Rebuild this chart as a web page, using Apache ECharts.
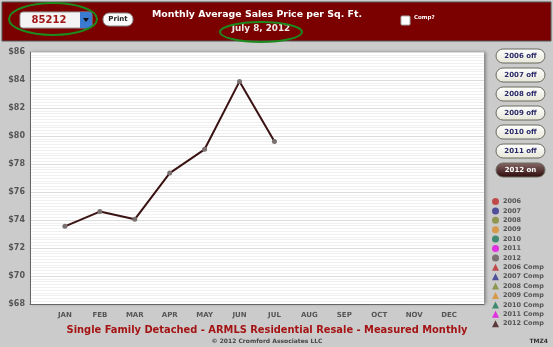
<!DOCTYPE html>
<html><head><meta charset="utf-8">
<script src="https://cdn.jsdelivr.net/npm/echarts@6/dist/echarts.min.js"></script>
<style>html,body{margin:0;padding:0;background:#cbcbcb}#c{width:553px;height:347px}</style>
</head><body><div id="c"></div>
<script>
const months = ['JAN','FEB','MAR','APR','MAY','JUN','JUL','AUG','SEP','OCT','NOV','DEC'];
const values2012 = [73.55, 74.6, 74.05, 77.35, 79.05, 83.9, 79.6];
const yTicks = [68,70,72,74,76,78,80,82,84,86];
const yearNames = ['2006','2007','2008','2009','2010','2011','2012'];
const yearColors = ['#c04a4a','#50509a','#8f9650','#d69a4a','#3f8a70','#e030e0','#5a3a3a'];
const yearButtons = ['2006 off','2007 off','2008 off','2009 off','2010 off','2011 off','2012 on'];

const cats = [''].concat(months).concat(['']);
const series = [];
yearNames.forEach((y,i)=>{
  series.push({name:y,type:'line',symbol:'circle',itemStyle:{color:yearColors[i]},
    data: y==='2012' ? ['-'].concat(values2012) : [],
    lineStyle:{color:'#3a1212',width:2}, symbolSize:5,
    z: 5});
});
yearNames.forEach((y,i)=>{
  series.push({name:y+' Comp',type:'line',symbol:'triangle',itemStyle:{color:yearColors[i]},data:[]});
});
series[6].itemStyle = {color:'#7a7070'};

const chart = echarts.init(document.getElementById('c'));
const graphics = [];
graphics.push({type:'rect',shape:{x:2,y:2,width:549,height:39},style:{fill:'#7b0000',stroke:'#555',lineWidth:1}});
graphics.push({type:'rect',shape:{x:20,y:12,width:72,height:16,r:3},style:{fill:'#f4f4f4',stroke:'#999'}});
graphics.push({type:'rect',shape:{x:80,y:12,width:12,height:16,r:[0,3,3,0]},style:{fill:'#3a7ad0'}});
graphics.push({type:'polygon',shape:{points:[[83,18],[89,18],[86,22]]},style:{fill:'#111'}});
graphics.push({type:'text',style:{x:49,y:20,text:'85212',fill:'#a01818',font:'bold 10px "DejaVu Sans"',align:'center',verticalAlign:'middle'}});
graphics.push({type:'rect',shape:{x:103,y:13,width:30,height:13,r:6},style:{fill:'#fafafa',stroke:'#888'}});
graphics.push({type:'text',style:{x:118,y:19.5,text:'Print',fill:'#222',font:'bold 7px "DejaVu Sans"',align:'center',verticalAlign:'middle'}});
graphics.push({type:'text',style:{x:257,y:15,text:'Monthly Average Sales Price per Sq. Ft.',fill:'#fff',font:'bold 9.4px "DejaVu Sans"',align:'center',verticalAlign:'middle'}});
graphics.push({type:'text',style:{x:261,y:29,text:'July 8, 2012',fill:'#f2e8e8',font:'bold 8.8px "DejaVu Sans"',align:'center',verticalAlign:'middle'}});
graphics.push({type:'rect',shape:{x:401,y:16,width:9,height:9,r:1},style:{fill:'#fff',stroke:'#aaa'}});
graphics.push({type:'text',style:{x:414,y:18,text:'Comp?',fill:'#fff',font:'bold 5.5px "DejaVu Sans"',verticalAlign:'middle'}});
graphics.push({type:'ellipse',shape:{cx:53,cy:19,rx:44,ry:16},style:{fill:'none',stroke:'#1d8a1d',lineWidth:2}});
graphics.push({type:'ellipse',shape:{cx:261,cy:32,rx:41,ry:10},style:{fill:'none',stroke:'#1d8a1d',lineWidth:2}});
yearButtons.forEach((b,i)=>{
  const on = b.indexOf('on')>=0;
  const cy = 56 + i*19;
  graphics.push({type:'rect',shape:{x:496,y:cy-7,width:49,height:14,r:7},
    style:{fill: on ? new echarts.graphic.LinearGradient(0,0,0,1,[{offset:0,color:'#8a6a6a'},{offset:1,color:'#2a0808'}]) : new echarts.graphic.LinearGradient(0,0,0,1,[{offset:0,color:'#ffffff'},{offset:1,color:'#e6e6d8'}]),
    stroke:'#6a6a60',lineWidth:1}});
  graphics.push({type:'text',style:{x:520.5,y:cy,text:b,fill: on ? '#fff' : '#2a2a6a',font:'bold 7px "DejaVu Sans"',align:'center',verticalAlign:'middle'}});
});
graphics.push({type:'text',style:{x:548,y:341,text:'TMZ4',fill:'#333',font:'bold 6px "DejaVu Sans"',align:'right',verticalAlign:'middle'}});
graphics.push({type:'text',style:{x:267,y:330,text:'Single Family Detached - ARMLS Residential Resale - Measured Monthly',fill:'#a51414',font:'bold 9.9px "DejaVu Sans"',align:'center',verticalAlign:'middle'}});
graphics.push({type:'text',style:{x:267,y:341,text:'\u00a9 2012 Cromford Associates LLC',fill:'#444',font:'bold 6px "DejaVu Sans"',align:'center',verticalAlign:'middle'}});

chart.setOption({
  animation:false,
  backgroundColor:'#cbcbcb',
  grid:{left:30,top:52,width:454,height:252,backgroundColor:'#ffffff',show:true,borderWidth:0,
    shadowColor:'rgba(0,0,0,0.35)',shadowBlur:3,shadowOffsetX:2},
  legend:{orient:'vertical',left:487,top:193,itemWidth:7,itemHeight:7,itemGap:2.4,
    icon:'circle',selectedMode:false,
    data: yearNames.map(n=>({name:n,icon:'circle'})).concat(yearNames.map(n=>({name:n+' Comp',icon:'triangle'}))),
    textStyle:{fontSize:6.5,fontWeight:'bold',color:'#555',fontFamily:'DejaVu Sans',padding:[0,0,0,-1]}},
  xAxis:{type:'category',data:cats,boundaryGap:false,
    axisLine:{lineStyle:{color:'#666',width:1}},axisTick:{show:false},
    axisLabel:{color:'#555',fontSize:7,fontWeight:'bold',fontFamily:'DejaVu Sans',margin:8,interval:0},
    splitLine:{show:false}},
  yAxis:{type:'value',min:yTicks[0],max:yTicks[yTicks.length-1],interval:2,
    axisLine:{show:true,lineStyle:{color:'#666'}},axisTick:{show:false},
    axisLabel:{color:'#555',fontSize:8,fontWeight:'bold',fontFamily:'DejaVu Sans',margin:5,formatter:v=>'$'+v},
    splitLine:{lineStyle:{color:'#dcdcdc',width:1}},
    minorTick:{show:false,splitNumber:10},
    minorSplitLine:{show:true,lineStyle:{color:'#f0f0f0',width:1}}},
  series: series,
  graphic: graphics
});
</script></body></html>
